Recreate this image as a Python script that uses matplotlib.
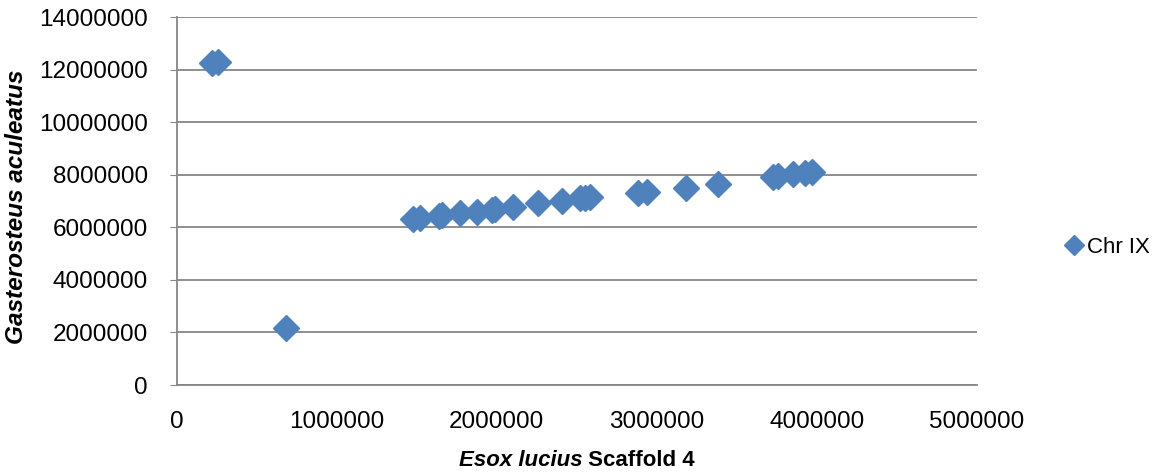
import numpy as np
import matplotlib.pyplot as plt
from matplotlib.offsetbox import TextArea, HPacker, AnchoredOffsetbox

plt.rcParams['font.family'] = ['Liberation Sans', 'DejaVu Sans']

# Esox lucius scaffold 4 position vs Gasterosteus aculeatus chr IX position
esox_pos = [219000, 256000, 681000,
            1475000, 1520000, 1640000, 1660000, 1770000, 1875000,
            1970000, 1990000, 2100000, 2260000, 2410000,
            2520000, 2550000, 2580000, 2880000, 2940000,
            3180000, 3380000, 3730000, 3760000, 3850000, 3930000, 3970000]
gast_pos = [12250000, 12280000, 2170000,
            6320000, 6350000, 6440000, 6470000, 6540000, 6580000,
            6660000, 6700000, 6770000, 6920000, 7000000,
            7100000, 7120000, 7150000, 7310000, 7330000,
            7490000, 7660000, 7930000, 7960000, 8040000, 8070000, 8100000]
series_name = 'Chr IX'

fig = plt.figure(figsize=(11.64, 4.73), dpi=100)
ax = fig.add_axes([0.152, 0.186, 0.687, 0.778])

ax.plot(esox_pos, gast_pos, linestyle='none', marker='D', ms=13,
        color='#4F81BD', mec='#4F81BD', label=series_name, clip_on=False, zorder=3)

ax.set_xlim(0, 5000000)
ax.set_ylim(0, 14000000)
ax.set_xticks(np.arange(0, 5000001, 1000000))
ax.set_yticks(np.arange(0, 14000001, 2000000))
ax.ticklabel_format(style='plain')
ax.grid(axis='y', color='#868686', linewidth=1.3)
ax.set_axisbelow(True)
for s in ['top', 'right']:
    ax.spines[s].set_visible(False)
for s in ['left', 'bottom']:
    ax.spines[s].set_color('#868686')
    ax.spines[s].set_linewidth(1.3)
ax.tick_params(axis='y', length=5, color='#868686', labelsize=17.5, pad=16)
ax.tick_params(axis='x', length=0, labelsize=17.5, pad=19)

ax.set_ylabel('Gasterosteus aculeatus', fontsize=17.6, fontweight='bold',
              fontstyle='italic')
ax.yaxis.set_label_coords(-0.186, 0.485)

# x label: italic species name + plain bold suffix
parts = HPacker(children=[
    TextArea('Esox lucius', textprops=dict(fontsize=16, fontweight='bold', fontstyle='italic')),
    TextArea(' Scaffold 4', textprops=dict(fontsize=16, fontweight='bold')),
], align='baseline', pad=0, sep=0)
box = AnchoredOffsetbox(loc='upper center', child=parts, frameon=False,
                        bbox_to_anchor=(0.5, -0.177), bbox_transform=ax.transAxes,
                        borderpad=0, pad=0)
ax.add_artist(box)

ax.legend(loc='center left', bbox_to_anchor=(1.088, 0.375), frameon=False,
          fontsize=16, handlelength=0.6, handletextpad=0.3, markerscale=0.75)

fig.savefig('out.png', dpi=100)
